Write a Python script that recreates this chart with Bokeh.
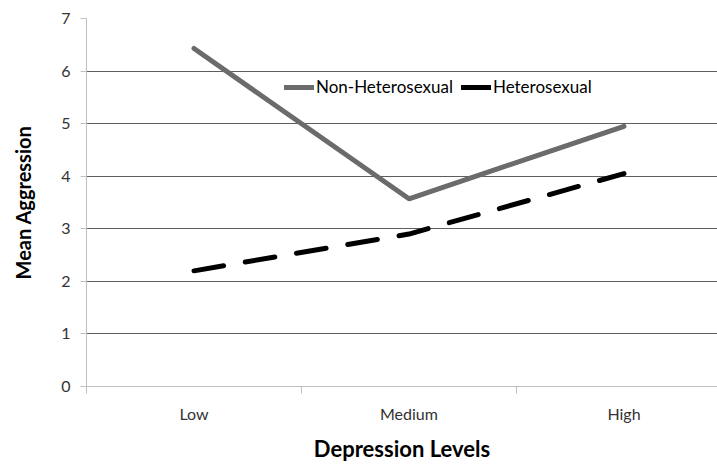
from bokeh.plotting import figure
from bokeh.models import FixedTicker, Legend, LegendItem, Range1d
from bokeh.embed import file_html
from bokeh.resources import INLINE

categories = ["Low", "Medium", "High"]
non_hetero = [6.43, 3.57, 4.95]
hetero = [2.2, 2.9, 4.05]
y_ticks = [0, 1, 2, 3, 4, 5, 6, 7]

x = [i + 0.5 for i in range(len(categories))]
FONT = "Lato"

p = figure(width=717, height=464, output_backend="svg", toolbar_location=None,
           x_range=Range1d(0, 2.935), y_range=Range1d(0, 7),
           min_border_left=86, min_border_right=0, min_border_top=18,
           min_border_bottom=78)
p.outline_line_color = None
p.xgrid.grid_line_color = None
p.ygrid.grid_line_color = "#5e5e5e"
p.ygrid.grid_line_width = 1
p.ygrid.ticker = FixedTicker(ticks=y_ticks)

# x axis
p.xaxis.ticker = FixedTicker(ticks=x, minor_ticks=[0, 1, 2, 3])
p.xaxis.major_label_overrides = {xx: c for xx, c in zip(x, categories)}
p.xaxis.major_tick_out = 0
p.xaxis.major_tick_in = 0
p.xaxis.minor_tick_out = 7
p.xaxis.minor_tick_in = 0
p.xaxis.minor_tick_line_color = "#bfbfbf"
p.xaxis.axis_line_color = "#bfbfbf"
p.xaxis.major_label_standoff = 10
p.xaxis.major_label_text_font = FONT
p.xaxis.major_label_text_font_size = "16px"
p.xaxis.major_label_text_color = "#333333"
p.xaxis.axis_label = "Depression Levels"
p.xaxis.axis_label_text_font = FONT
p.xaxis.axis_label_text_font_size = "22px"
p.xaxis.axis_label_text_font_style = "bold"
p.xaxis.axis_label_text_color = "#000000"
p.xaxis.axis_label_standoff = 9

# y axis
p.yaxis.ticker = FixedTicker(ticks=y_ticks)
p.yaxis.axis_line_color = "#bfbfbf"
p.yaxis.major_tick_line_color = "#bfbfbf"
p.yaxis.major_tick_out = 6
p.yaxis.major_tick_in = 0
p.yaxis.minor_tick_line_color = None
p.yaxis.major_label_standoff = 10
p.yaxis.major_label_text_font = FONT
p.yaxis.major_label_text_font_size = "16px"
p.yaxis.major_label_text_color = "#333333"
p.yaxis.axis_label = "Mean Aggression"
p.yaxis.axis_label_text_font = FONT
p.yaxis.axis_label_text_font_size = "20px"
p.yaxis.axis_label_text_font_style = "bold"
p.yaxis.axis_label_text_color = "#000000"
p.yaxis.axis_label_standoff = 23

r1 = p.line(x, non_hetero, line_color="#6b6b6b", line_width=5, line_cap="round",
            line_join="round")
r2 = p.line(x, hetero, line_color="#000000", line_width=5, line_cap="round",
            line_dash="30 22")

legend = Legend(items=[LegendItem(label="Non-Heterosexual", renderers=[r1]),
                       LegendItem(label="Heterosexual", renderers=[r2])],
                orientation="horizontal", location=(198, 289),
                glyph_width=30, glyph_height=18, label_standoff=2, spacing=8,
                padding=2, margin=0, border_line_color=None,
                background_fill_alpha=0,
                label_text_font=FONT, label_text_font_size="17px",
                label_text_color="#000000")
p.add_layout(legend)

open("out.html", "w").write(file_html(p, INLINE))
